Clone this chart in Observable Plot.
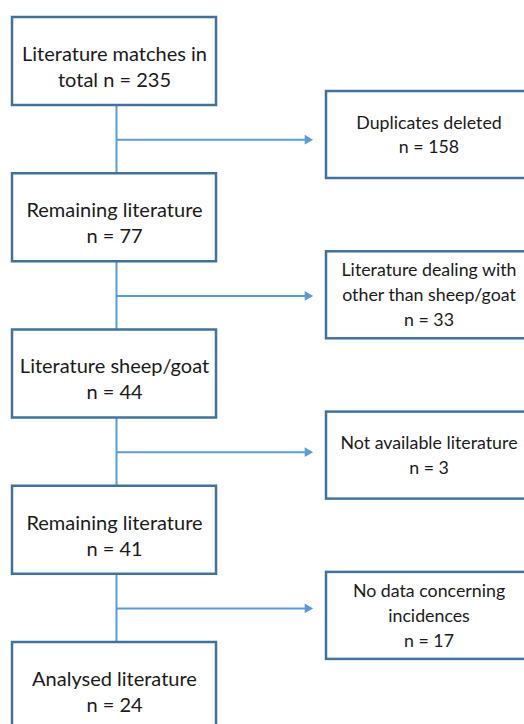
<!DOCTYPE html>
<html>
<head>
<meta charset="utf-8">
<script src="https://cdn.jsdelivr.net/npm/d3@7"></script>
<script src="https://cdn.jsdelivr.net/npm/@observablehq/plot@0.6"></script>
<style>
  html, body { margin: 0; padding: 0; background: white; overflow: hidden; }
  #chart svg { display: block; }
</style>
</head>
<body>
<div id="chart"></div>
<script>
// ---- data ----
const stepLabels = ["Literature matches in\ntotal", "Remaining literature", "Literature sheep/goat", "Remaining literature", "Analysed literature"];
const stepCounts = [235, 77, 44, 41, 24];
const excludedLabels = ["Duplicates deleted", "Literature dealing with\nother than sheep/goat", "Not available literature", "No data concerning\nincidences"];
const excludedCounts = [158, 33, 3, 17];

// ---- layout ----
const W = 524, H = 724;
const leftX1 = 12, leftX2 = 216, spineX = 116;
const leftTop0 = 17, leftStep = 156.25, boxH = 88;
const rightX1 = 326, rightX2 = 531, rightTop0 = 91, rightStep = 160.3, rightH = 87;
const borderColor = "#41719C", lineColor = "#5B9BD5", textColor = "#1a1a1a";

const steps = stepLabels.map((s, i) => {
  const top = leftTop0 + i * leftStep;
  return {
    label: i === 0 ? `${s} n = ${stepCounts[i]}` : `${s}\nn = ${stepCounts[i]}`,
    y1: top, y2: top + boxH, ty: top + 48
  };
});
const excl = excludedLabels.map((s, i) => {
  const top = rightTop0 + i * rightStep;
  const arrowY = (steps[i].y2 + steps[i + 1].y1) / 2;
  return {
    label: `${s}\nn = ${excludedCounts[i]}`,
    y1: top, y2: top + rightH, ty: top + rightH / 2 - 2, arrowY
  };
});
const spine = steps.slice(0, -1).map((s, i) => ({y1: s.y2, y2: steps[i + 1].y1}));

const chart = Plot.plot({
  width: W, height: H,
  margin: 0,
  x: {domain: [0, W], range: [0, W], axis: null},
  y: {domain: [0, H], range: [0, H], axis: null},
  marks: [
    Plot.link(spine, {x1: spineX, x2: spineX, y1: "y1", y2: "y2", stroke: lineColor, strokeWidth: 2}),
    Plot.link(excl, {x1: spineX, x2: rightX1 - 20, y1: "arrowY", y2: "arrowY", stroke: lineColor, strokeWidth: 2}),
    Plot.dot(excl, {x: rightX1 - 19, y: "arrowY", symbol: "triangle", rotate: 90, r: 3.6, fill: lineColor, stroke: null}),
    Plot.rect(steps, {x1: leftX1, x2: leftX2, y1: "y1", y2: "y2", fill: "white", stroke: borderColor, strokeWidth: 2.5, clip: true}),
    Plot.rect(excl, {x1: rightX1, x2: rightX2, y1: "y1", y2: "y2", fill: "white", stroke: borderColor, strokeWidth: 2.5, clip: true}),
    Plot.text(steps, {x: (leftX1 + leftX2) / 2, y: "ty", text: "label", fontSize: 20, lineHeight: 1.3, fill: textColor, fontFamily: "Lato"}),
    Plot.text(excl, {x: (rightX1 + rightX2) / 2, y: "ty", text: "label", fontSize: 17.8, lineHeight: 1.4, fill: textColor, fontFamily: "Lato"})
  ]
});
document.getElementById("chart").append(chart);
</script>
</body>
</html>
